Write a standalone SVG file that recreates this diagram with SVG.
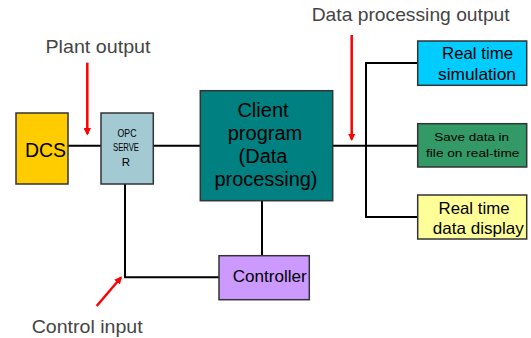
<svg xmlns="http://www.w3.org/2000/svg" width="531" height="338" viewBox="0 0 531 338">
<style>
.box{stroke:#333;stroke-width:1.5}
.t{font-family:"Liberation Sans",Arial,sans-serif;fill:#000;text-anchor:middle}
.lbl{font-family:"Liberation Sans",Arial,sans-serif;fill:#444;font-size:19px}
.wire{stroke:#000;stroke-width:2;fill:none}
.red{stroke:#f00;stroke-width:2.5;fill:none}
</style>
<defs>
<marker id="ah" viewBox="0 0 10 10" refX="8" refY="5" markerWidth="3" markerHeight="3" orient="auto" markerUnits="strokeWidth">
<path d="M0,0 L10,5 L0,10 z" fill="#f00"/>
</marker>
</defs>
<rect width="531" height="338" fill="#fff"/>
<g id="connectors">
<path class="wire" d="M68,145.7 H101"/>
<path class="wire" d="M153.3,145.7 H200.3"/>
<path class="wire" d="M332.7,145.7 H417.7"/>
<path class="wire" d="M417.7,63 H366 V217 H417.7"/>
<path class="wire" d="M262,200.7 V255.7"/>
<path class="wire" d="M125,184 V277.3 H219"/>
<path class="red" d="M87.3,62.7 V134" marker-end="url(#ah)"/>
<path class="red" d="M351.7,35 V139.5" marker-end="url(#ah)"/>
<path class="red" d="M96.7,306 L121,277.5" marker-end="url(#ah)"/>
</g>
<g id="label-plant"><text class="lbl" x="45.5" y="53" textLength="105" lengthAdjust="spacingAndGlyphs">Plant output</text></g>
<g id="label-data"><text class="lbl" x="311.7" y="20.7" textLength="198" lengthAdjust="spacingAndGlyphs">Data processing output</text></g>
<g id="label-control"><text class="lbl" x="31.7" y="333" textLength="111" lengthAdjust="spacingAndGlyphs">Control input</text></g>
<g id="dcs">
<rect class="box" x="16" y="113" width="52" height="71" fill="#ffcc00"/>
<text class="t" x="45.5" y="156.7" font-size="21" textLength="41" lengthAdjust="spacingAndGlyphs">DCS</text>
</g>
<g id="opc">
<rect class="box" x="101" y="113" width="52.3" height="71" fill="#a3cad3"/>
<text class="t" x="127" y="136.7" font-size="11.5" fill="#222" textLength="19" lengthAdjust="spacingAndGlyphs">OPC</text>
<text class="t" x="126" y="151" font-size="11.5" fill="#222" textLength="26" lengthAdjust="spacingAndGlyphs">SERVE</text>
<text class="t" x="126" y="165.5" font-size="11.5" fill="#222">R</text>
</g>
<g id="client">
<rect class="box" x="200.3" y="90.7" width="132.4" height="110" fill="#008080"/>
<text class="t" x="263" y="116.7" font-size="20" fill="#111">Client</text>
<text class="t" x="265" y="140" font-size="20" fill="#111">program</text>
<text class="t" x="263" y="163.3" font-size="20" fill="#111">(Data</text>
<text class="t" x="266" y="185.5" font-size="20" fill="#111" textLength="103" lengthAdjust="spacingAndGlyphs">processing)</text>
</g>
<g id="sim">
<rect class="box" x="417.7" y="41" width="109" height="44.3" fill="#00ccff"/>
<text class="t" x="477.5" y="59.3" font-size="16.5" textLength="71" lengthAdjust="spacingAndGlyphs">Real time</text>
<text class="t" x="477" y="80" font-size="16.5" textLength="78" lengthAdjust="spacingAndGlyphs">simulation</text>
</g>
<g id="save">
<rect class="box" x="417.7" y="123.7" width="109" height="43.3" fill="#339966"/>
<text class="t" x="471.7" y="141" font-size="11.5" fill="#111" textLength="74.7" lengthAdjust="spacingAndGlyphs">Save data in</text>
<text class="t" x="472.7" y="156.7" font-size="11.5" fill="#111" textLength="93.3" lengthAdjust="spacingAndGlyphs">file on real-time</text>
</g>
<g id="display">
<rect class="box" x="417.7" y="195" width="109" height="44" fill="#ffff99"/>
<text class="t" x="474" y="214.3" font-size="16.5" textLength="71" lengthAdjust="spacingAndGlyphs">Real time</text>
<text class="t" x="478.3" y="234" font-size="16.5" textLength="91" lengthAdjust="spacingAndGlyphs">data display</text>
</g>
<g id="controller">
<rect class="box" x="219" y="255.7" width="90.3" height="44" fill="#cc99ff"/>
<text class="t" x="269.7" y="282" font-size="16" textLength="74" lengthAdjust="spacingAndGlyphs">Controller</text>
</g>
</svg>
